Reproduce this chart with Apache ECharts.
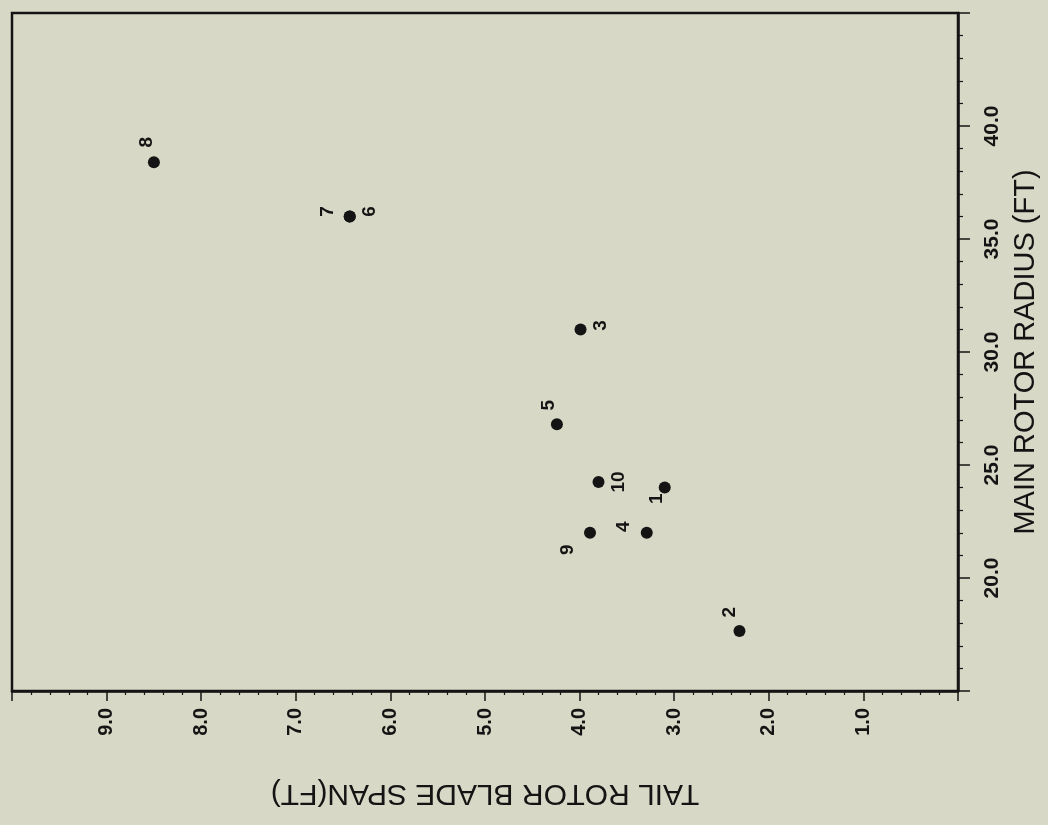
<!DOCTYPE html>
<html>
<head>
<meta charset="utf-8">
<title>Tail rotor span vs main rotor radius</title>
<script src="https://cdn.jsdelivr.net/npm/echarts@6/dist/echarts.min.js"></script>
<style>
  html, body { margin: 0; padding: 0; background: #d8d8c6; }
  #chart { width: 1048px; height: 825px; }
</style>
</head>
<body>
<div id="chart"></div>
<script>
// Helicopter identifiers and their rotor dimensions (feet)
const helicopterIds = ['1', '2', '3', '4', '5', '6', '7', '8', '9', '10'];
const mainRotorRadius = [24.0, 17.65, 31.0, 22.0, 26.8, 36.0, 36.0, 38.4, 22.0, 24.25];
const tailRotorSpan = [3.10, 2.31, 3.99, 3.29, 4.24, 6.43, 6.43, 8.50, 3.89, 3.80];

// Axis tick labels
const spanTickValues = [1, 2, 3, 4, 5, 6, 7, 8, 9];
const spanTickLabels = ['1.0', '2.0', '3.0', '4.0', '5.0', '6.0', '7.0', '8.0', '9.0'];
const radiusTickValues = [20, 25, 30, 35, 40];
const radiusTickLabels = ['20.0', '25.0', '30.0', '35.0', '40.0'];

// Where each point's label sits relative to its marker, in screen pixels [right, down]
const labelShift = {
  '1': [-8, 11], '2': [-10, -19], '3': [20, -4], '4': [-23, -6], '5': [-8, -19],
  '6': [20, -5], '7': [-22, -5], '8': [-7, -20], '9': [-22, 17], '10': [20, 0]
};

const ink = '#141414';
const font = "'Liberation Sans', Arial, sans-serif";

function tickText(values, labels) {
  return function (v) {
    const i = values.indexOf(Math.round(v * 100) / 100);
    return i >= 0 ? labels[i] : '';
  };
}

// Label offsets are applied in the label's rotated frame (rotate: 90),
// so a screen shift [sx, sy] becomes [-sy, sx].
const points = tailRotorSpan.map(function (s, i) {
  const id = helicopterIds[i];
  const sh = labelShift[id];
  return {
    value: [s, mainRotorRadius[i]],
    name: id,
    label: { offset: [-sh[1], sh[0]] }
  };
});

const chart = echarts.init(document.getElementById('chart'));
chart.setOption({
  backgroundColor: '#d8d8c6',
  animation: false,
  grid: {
    left: 12, right: 85, top: 13, bottom: 134,
    show: true, borderColor: ink, borderWidth: 2.5, backgroundColor: 'transparent'
  },
  xAxis: {
    type: 'value',
    inverse: true,
    min: 0, max: 10, interval: 1,
    position: 'bottom',
    splitLine: { show: false },
    axisLine: { show: true, lineStyle: { color: ink, width: 2.5 } },
    axisTick: { show: true, inside: false, length: 10, lineStyle: { color: ink, width: 1.5 } },
    minorTick: { show: true, splitNumber: 5, length: 4, lineStyle: { color: ink, width: 1.2 } },
    axisLabel: {
      rotate: 90, margin: 17, color: ink, fontFamily: font, fontSize: 20, fontWeight: 'bold',
      showMinLabel: false, showMaxLabel: false,
      formatter: tickText(spanTickValues, spanTickLabels)
    },
    name: 'TAIL ROTOR BLADE SPAN(FT)',
    nameLocation: 'middle',
    nameRotate: 180,
    nameGap: 87,
    nameTextStyle: { color: ink, fontFamily: font, fontSize: 30 }
  },
  yAxis: {
    type: 'value',
    position: 'right',
    min: 15, max: 45, interval: 5,
    splitLine: { show: false },
    axisLine: { show: true, lineStyle: { color: ink, width: 2.5 } },
    axisTick: { show: true, inside: false, length: 12, lineStyle: { color: ink, width: 1.5 } },
    minorTick: { show: true, splitNumber: 5, length: 5, lineStyle: { color: ink, width: 1.2 } },
    axisLabel: {
      rotate: 90, margin: 24, color: ink, fontFamily: font, fontSize: 21, fontWeight: 'bold',
      showMinLabel: false, showMaxLabel: false,
      formatter: tickText(radiusTickValues, radiusTickLabels)
    },
    name: 'MAIN ROTOR RADIUS (FT)',
    nameLocation: 'middle',
    nameRotate: 90,
    nameGap: 53,
    nameTextStyle: { color: ink, fontFamily: font, fontSize: 29 }
  },
  series: [{
    type: 'scatter',
    symbol: 'circle',
    symbolSize: 12,
    itemStyle: { color: ink, opacity: 1 },
    data: points,
    label: {
      show: true,
      position: 'inside',
      rotate: 90,
      formatter: '{b}',
      color: ink,
      opacity: 1,
      fontFamily: font,
      fontSize: 19,
      fontWeight: 'bold'
    }
  }]
});
</script>
</body>
</html>
